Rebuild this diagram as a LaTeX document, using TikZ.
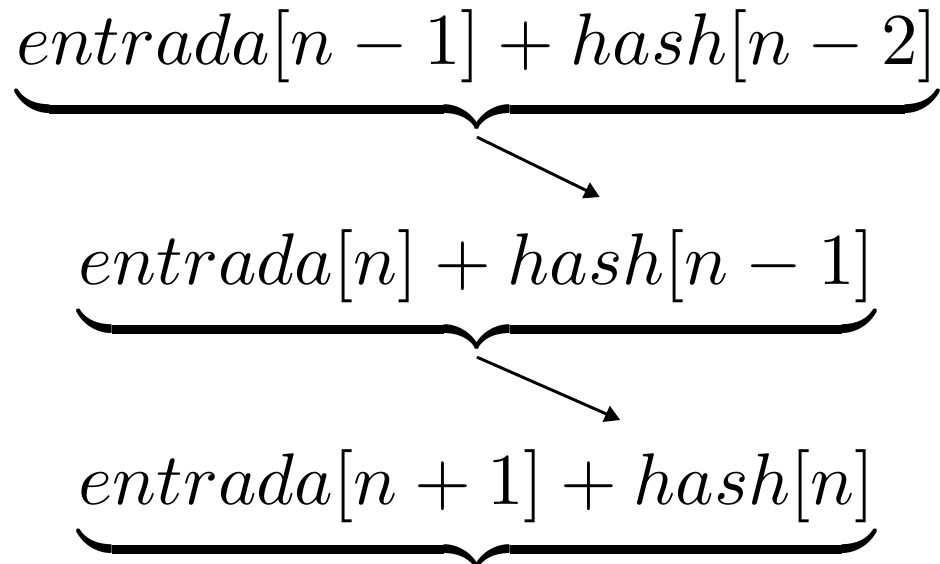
\documentclass[tikz,border=0pt]{standalone}
\usepackage{tikz}
\usetikzlibrary{arrows.meta}

\begin{document}
\begin{tikzpicture}[
    >={Triangle[length=2.1pt,width=2.3pt]},
    expr/.style={inner sep=0pt, anchor=base}
]
\useasboundingbox (-65.25pt,8.86pt) rectangle (63.34pt,-68.29pt);

% Bloque n-1
\node[expr] (prev) at (0,0)       {$\underbrace{entrada[n-1]+hash[n-2]}$};

% Bloque n
\node[expr] (curr) at (0,-30.1pt) {$\underbrace{entrada[n]+hash[n-1]}$};

% Bloque n+1
\node[expr] (next) at (0,-60.2pt) {$\underbrace{entrada[n+1]+hash[n]}$};

% Encadenamiento
\coordinate (tocurr) at ([shift={(16.8pt,12pt)}]curr.base);
\coordinate (tonext) at ([shift={(19.6pt,11.6pt)}]next.base);
\draw[->] (prev.south) -- (tocurr);
\draw[->] (curr.south) -- (tonext);

\end{tikzpicture}
\end{document}
